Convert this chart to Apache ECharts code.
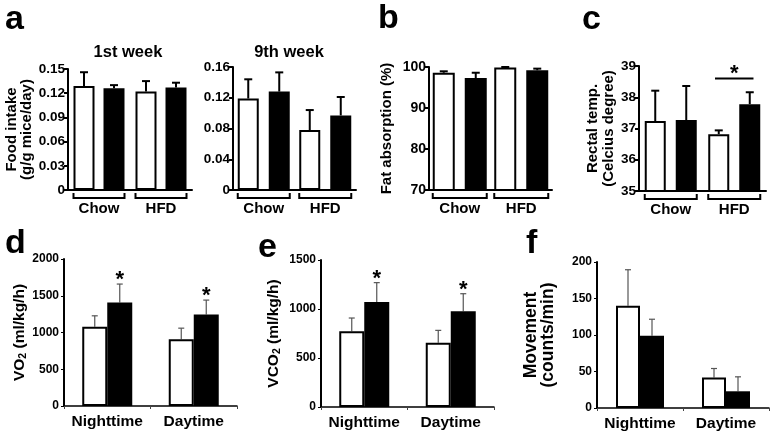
<!DOCTYPE html>
<html><head><meta charset="utf-8">
<script src="https://cdn.jsdelivr.net/npm/echarts@6/dist/echarts.min.js"></script>
<style>html,body{margin:0;padding:0;background:#fff}#c{width:775px;height:434px}</style>
</head><body><div id="c"></div>
<script>
// ---- data ----
const dietGroups = ['Chow', 'HFD'];
const timeGroups = ['Nighttime', 'Daytime'];

const week1White = [0.129, 0.122];  const week1WhiteErr = [0.017, 0.013];
const week1Black = [0.126, 0.127];  const week1BlackErr = [0.004, 0.006];

const week9White = [0.119, 0.078];  const week9WhiteErr = [0.025, 0.026];
const week9Black = [0.128, 0.097];  const week9BlackErr = [0.025, 0.024];

const fatWhite = [98.6, 99.85];     const fatWhiteErr = [0.35, 0.15];
const fatBlack = [97.3, 99.2];      const fatBlackErr = [1.3, 0.4];

const tempWhite = [37.24, 36.82];   const tempWhiteErr = [0.97, 0.12];
const tempBlack = [37.27, 37.78];   const tempBlackErr = [1.09, 0.38];
const tempSigLevel = [null, 38.6];  // significance bar over HFD

const vo2White = [1077, 909];       const vo2WhiteErr = [150, 150];
const vo2Black = [1409, 1245];      const vo2BlackErr = [250, 196];
const vo2Sig = [true, true];

const vco2White = [772, 656];       const vco2WhiteErr = [136, 126];
const vco2Black = [1071, 976];      const vco2BlackErr = [198, 180];
const vco2Sig = [true, true];

const moveWhite = [139.9, 41.7];    const moveWhiteErr = [49.5, 12.4];
const moveBlack = [99.1, 22.9];     const moveBlackErr = [22.5, 19.8];
const moveSig = [false, false];

// ---- layout / style ----
const FONT = '"Liberation Sans", Arial, sans-serif';
const panels = [
  {grid:{left:68,top:69,width:124,height:121}, cats:dietGroups, min:0, max:0.15, interval:0.03,
   w:week1White, we:week1WhiteErr, b:week1Black, be:week1BlackErr, top:true, bw:21, gap:9,
   name:'Food intake\n(g/g mice/day)', nameGap:33, nameSize:15, nameLH:15, tickSize:13.5},
  {grid:{left:233,top:67,width:123,height:123}, cats:dietGroups, min:0, max:0.16, interval:0.04,
   w:week9White, we:week9WhiteErr, b:week9Black, be:week9BlackErr, top:true, bw:21, gap:10,
   tickSize:13.5},
  {grid:{left:429,top:67,width:123,height:123}, cats:dietGroups, min:70, max:100, interval:10,
   w:fatWhite, we:fatWhiteErr, b:fatBlack, be:fatBlackErr, top:true, bw:22, gap:10,
   name:'Fat absorption (%)', nameGap:34, nameSize:15, nameLH:16, tickSize:14},
  {grid:{left:639,top:66,width:127,height:125}, cats:dietGroups, min:35, max:39, interval:1,
   w:tempWhite, we:tempWhiteErr, b:tempBlack, be:tempBlackErr, top:true, bw:21, gap:10,
   name:'Rectal temp.\n(Celcius degree)', nameGap:22, nameSize:15, nameLH:16, tickSize:13.5, sigLine:tempSigLevel},
  {grid:{left:64,top:259,width:173,height:147}, cats:timeGroups, min:0, max:2000, interval:500,
   w:vo2White, we:vo2WhiteErr, b:vo2Black, be:vo2BlackErr, top:false, bw:25, gap:0,
   name:'{n|VO}{s|2}{n| (ml/kg/h)}', nameGap:33, nameSize:15.5, nameLH:18, tickSize:12, stars:vo2Sig},
  {grid:{left:321,top:260,width:173,height:147}, cats:timeGroups, min:0, max:1500, interval:500,
   w:vco2White, we:vco2WhiteErr, b:vco2Black, be:vco2BlackErr, top:false, bw:25, gap:0,
   name:'{n|VCO}{s|2}{n| (ml/kg/h)}', nameGap:38, nameSize:15.5, nameLH:18, tickSize:12, stars:vco2Sig},
  {grid:{left:597,top:262,width:172,height:146}, cats:timeGroups, min:0, max:200, interval:50,
   w:moveWhite, we:moveWhiteErr, b:moveBlack, be:moveBlackErr, top:false, bw:24, gap:0,
   name:'Movement\n(counts/min)', nameGap:40, nameSize:17.5, nameLH:17, tickSize:12, stars:moveSig}
];

const grid = [], xAxis = [], yAxis = [], series = [];
panels.forEach((p, i) => {
  const lw = p.top ? 2 : 1.5;
  grid.push(Object.assign({containLabel:false}, p.grid));
  xAxis.push({
    type:'category', gridIndex:i, data:p.cats,
    axisLine:{lineStyle:{color:'#000', width:lw}},
    axisTick:{show:!p.top, length:3, interval:0, lineStyle:{color:'#444', width:1}},
    axisLabel:{interval:0, fontFamily:FONT, fontWeight:'bold', fontSize:p.top?15:15.5, color:'#000', margin:p.top?11:8},
    splitLine:{show:false}
  });
  yAxis.push({
    type:'value', gridIndex:i, min:p.min, max:p.max, interval:p.interval,
    name:p.name || '', nameLocation:'middle', nameRotate:90, nameGap:p.nameGap || 30,
    nameTextStyle:{fontFamily:FONT, fontWeight:'bold', fontSize:p.nameSize, lineHeight:p.nameLH, color:'#000',
      rich:{n:{fontFamily:FONT, fontWeight:'bold', fontSize:p.nameSize, lineHeight:18, color:'#000'},
            s:{fontFamily:FONT, fontWeight:'bold', fontSize:10.5, lineHeight:10, verticalAlign:'bottom', color:'#000'}}},
    axisLine:{show:true, lineStyle:{color:'#000', width:2}},
    axisTick:{show:true, length:p.top?4:3, lineStyle:{color:'#000', width:p.top?2:1}},
    axisLabel:{fontFamily:FONT, fontWeight:'bold', fontSize:p.tickSize, color:'#000', margin:p.top?3:5,
      formatter:(v) => String(+v.toFixed(4))},
    splitLine:{show:false}
  });
  const gapPct = (p.gap / p.bw * 100) + '%';
  series.push({type:'bar', xAxisIndex:i, yAxisIndex:i, data:p.w, barWidth:p.bw, barGap:gapPct,
    itemStyle:{color:'#fff', borderColor:'#000', borderWidth:2}, silent:true});
  series.push({type:'bar', xAxisIndex:i, yAxisIndex:i, data:p.b, barWidth:p.bw, barGap:gapPct,
    itemStyle:{color:'#000'}, silent:true});
  const off = (p.bw + p.gap) / 2;
  const errColor = p.top ? '#000' : '#555';
  const errW = p.top ? 2 : 1.2;
  const cap = p.top ? 4 : 3;
  [[p.w, p.we, -1], [p.b, p.be, 1]].forEach(([vals, errs, side]) => {
    series.push({type:'custom', xAxisIndex:i, yAxisIndex:i, silent:true, z:1,
      data: vals.map((v, k) => [k, v, errs[k]]),
      renderItem:(params, api) => {
        const k = api.value(0), v = api.value(1), e = api.value(2);
        const base = api.coord([k, v]), tp = api.coord([k, v + e]);
        const x = base[0] + side * off;
        const st = {stroke:errColor, lineWidth:errW};
        return {type:'group', children:[
          {type:'line', shape:{x1:x, y1:base[1], x2:x, y2:tp[1]}, style:st},
          {type:'line', shape:{x1:x-cap, y1:tp[1], x2:x+cap, y2:tp[1]}, style:st}
        ]};
      }});
  });
  if (p.top) {
    const half = (2 * p.bw + p.gap) / 2;
    series.push({type:'custom', xAxisIndex:i, yAxisIndex:i, silent:true,
      data: p.cats.map((c, k) => [k, p.min]),
      renderItem:(params, api) => {
        const c = api.coord([api.value(0), api.value(1)]);
        const y0 = c[1] + 3, y1 = c[1] + 8;
        return {type:'polyline', shape:{points:[[c[0]-half, y0],[c[0]-half, y1],[c[0]+half, y1],[c[0]+half, y0]]},
          style:{stroke:'#000', lineWidth:2, fill:null}};
      }});
  }
  if (p.sigLine) {
    const half = (2 * p.bw + p.gap) / 2 * 0.74;
    series.push({type:'custom', xAxisIndex:i, yAxisIndex:i, silent:true,
      data: p.sigLine.map((v, k) => [k, v]).filter(d => d[1] != null),
      renderItem:(params, api) => {
        const c = api.coord([api.value(0), api.value(1)]);
        return {type:'group', children:[
          {type:'line', shape:{x1:c[0]-half, y1:c[1], x2:c[0]+half, y2:c[1]}, style:{stroke:'#000', lineWidth:2}},
          {type:'text', x:c[0], y:c[1]-5, style:{text:'*', font:'bold 22px '+FONT, fill:'#000', align:'center', verticalAlign:'middle'}}
        ]};
      }});
  }
  if (p.stars) {
    series.push({type:'custom', xAxisIndex:i, yAxisIndex:i, silent:true,
      data: p.b.map((v, k) => [k, v + p.be[k]]).filter((d, k) => p.stars[k]),
      renderItem:(params, api) => {
        const c = api.coord([api.value(0), api.value(1)]);
        return {type:'text', x:c[0] + off, y:c[1] - 4, style:{text:'*', font:'bold 22px '+FONT, fill:'#000', align:'center', verticalAlign:'middle'}};
      }});
  }
});

const letter = (t, x, y) => ({type:'text', x:x, y:y, style:{text:t, font:'bold 34px '+FONT, fill:'#000', align:'left', verticalAlign:'middle'}});
const title = (t, x, y) => ({type:'text', x:x, y:y, style:{text:t, font:'bold 16.5px '+FONT, fill:'#000', align:'center', verticalAlign:'middle'}});

const chart = echarts.init(document.getElementById('c'), null, {renderer:'canvas'});
chart.setOption({
  animation:false,
  backgroundColor:'#fff',
  grid, xAxis, yAxis, series,
  graphic:[
    letter('a', 5, 20), letter('b', 378, 19), letter('c', 582, 20),
    letter('d', 5, 244), letter('e', 258, 248), letter('f', 526, 244),
    title('1st week', 128, 52), title('9th week', 289, 52)
  ]
});
</script>
</body></html>
